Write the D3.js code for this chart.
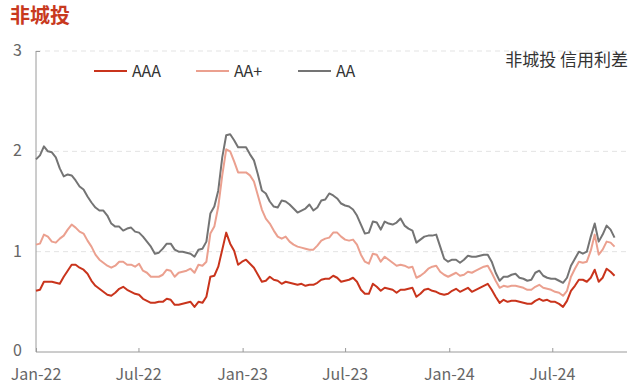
<!DOCTYPE html>
<html>
<head>
<meta charset="utf-8">
<script src="https://cdn.jsdelivr.net/npm/d3@7"></script>
<style>
  html, body { margin: 0; padding: 0; background: #ffffff; }
  svg { display: block; }
  text { font-family: "Noto Sans CJK SC", "Noto Sans", sans-serif; }
</style>
</head>
<body>
<svg id="chart" width="640" height="391"></svg>
<script>
// ---- Data (weekly, starting 2022-01-01) ----
const startDate = "2022-01-01";
const stepDays = 7;
const seriesNames = ["AAA", "AA+", "AA"];
const aaa = [0.61,0.62,0.70,0.70,0.70,0.69,0.68,0.75,0.81,0.87,0.87,0.84,0.82,0.78,0.71,0.66,0.63,0.60,0.57,0.56,
  0.59,0.63,0.65,0.62,0.60,0.58,0.57,0.53,0.51,0.49,0.49,0.50,0.50,0.53,0.52,0.47,0.47,0.48,0.49,0.50,
  0.45,0.50,0.49,0.55,0.75,0.76,0.85,1.02,1.19,1.08,1.01,0.87,0.90,0.92,0.88,0.84,0.77,0.70,0.71,0.75,
  0.72,0.71,0.68,0.70,0.69,0.68,0.67,0.68,0.66,0.67,0.67,0.69,0.72,0.73,0.73,0.76,0.74,0.70,0.71,0.72,
  0.74,0.70,0.62,0.58,0.58,0.68,0.65,0.61,0.64,0.63,0.62,0.59,0.62,0.62,0.63,0.64,0.55,0.58,0.62,0.63,
  0.61,0.60,0.58,0.57,0.58,0.61,0.63,0.60,0.62,0.64,0.60,0.62,0.64,0.66,0.68,0.62,0.55,0.49,0.52,0.50,
  0.51,0.51,0.50,0.49,0.48,0.48,0.51,0.53,0.51,0.52,0.50,0.50,0.48,0.45,0.51,0.61,0.66,0.72,0.72,0.70,
  0.74,0.82,0.70,0.74,0.83,0.80,0.76];
const aaPlus = [1.07,1.08,1.17,1.15,1.10,1.09,1.13,1.16,1.22,1.27,1.24,1.20,1.18,1.11,1.05,0.97,0.92,0.89,0.86,0.84,
  0.86,0.90,0.90,0.87,0.87,0.85,0.88,0.81,0.79,0.75,0.75,0.75,0.77,0.82,0.81,0.75,0.79,0.80,0.81,0.83,
  0.79,0.87,0.86,0.90,1.18,1.25,1.45,1.76,2.02,2.00,1.90,1.79,1.79,1.79,1.76,1.70,1.56,1.42,1.33,1.28,
  1.21,1.15,1.13,1.15,1.10,1.07,1.05,1.04,1.03,1.02,1.02,1.06,1.11,1.13,1.14,1.19,1.19,1.15,1.12,1.11,
  1.12,1.07,0.97,0.90,0.88,0.98,0.97,0.90,0.95,0.92,0.89,0.86,0.87,0.86,0.84,0.85,0.74,0.76,0.79,0.83,
  0.85,0.86,0.80,0.77,0.75,0.77,0.79,0.76,0.77,0.80,0.79,0.81,0.83,0.85,0.86,0.79,0.71,0.64,0.66,0.65,
  0.66,0.66,0.65,0.64,0.62,0.62,0.65,0.67,0.64,0.63,0.62,0.60,0.59,0.56,0.61,0.75,0.83,0.90,0.89,0.90,
  1.01,1.17,0.97,1.02,1.10,1.09,1.05];
const aa = [1.92,1.96,2.05,2.00,1.99,1.94,1.83,1.75,1.77,1.76,1.71,1.65,1.62,1.55,1.49,1.44,1.41,1.41,1.36,1.28,
  1.25,1.25,1.21,1.23,1.24,1.20,1.19,1.15,1.10,1.05,0.98,0.99,1.03,1.08,1.08,1.02,1.00,1.00,0.99,0.98,
  0.95,1.02,1.03,1.10,1.38,1.45,1.61,1.94,2.16,2.17,2.11,2.04,2.04,2.04,1.97,1.91,1.77,1.61,1.58,1.50,
  1.45,1.44,1.51,1.50,1.47,1.43,1.39,1.41,1.43,1.47,1.41,1.44,1.51,1.52,1.58,1.56,1.53,1.48,1.46,1.45,
  1.42,1.36,1.27,1.18,1.19,1.30,1.29,1.22,1.30,1.28,1.27,1.29,1.33,1.26,1.23,1.21,1.09,1.12,1.15,1.16,
  1.16,1.17,1.05,0.93,0.90,0.92,0.92,0.89,0.92,0.96,0.95,0.95,0.96,0.97,0.97,0.90,0.79,0.71,0.75,0.75,
  0.77,0.78,0.74,0.73,0.71,0.72,0.79,0.81,0.76,0.74,0.73,0.73,0.71,0.69,0.74,0.86,0.93,1.00,0.98,1.00,
  1.15,1.28,1.10,1.17,1.26,1.22,1.14];
const xTickDates = ["2022-01-01","2022-07-01","2023-01-01","2023-07-01","2024-01-01","2024-07-01"];
const xTickLabels = ["Jan-22","Jul-22","Jan-23","Jul-23","Jan-24","Jul-24"];
const yTicks = [0, 1, 2, 3];
const colors = ["#C9341C", "#EBA08F", "#747474"];
const titleText = "非城投";
const noteText = "非城投 信用利差";

(function () {
  const parse = d3.utcParse("%Y-%m-%d");
  const t0 = parse(startDate);
  const dates = aaa.map((_, i) => d3.utcDay.offset(t0, i * stepDays));
  const seriesVals = [aaa, aaPlus, aa];

  const svg = d3.select("#chart");
  const pL = 36, pR = 627, pT = 51, pB = 352;

  const x = d3.scaleUtc()
    .domain([parse("2022-01-01"), parse("2024-11-10")])
    .range([pL, pR]);
  const y = d3.scaleLinear().domain([0, 3]).range([pB, pT]);

  // title
  svg.append("text")
    .attr("x", 10).attr("y", 23)
    .attr("fill", "#C8391E")
    .attr("font-size", 20).attr("font-weight", 700)
    .text(titleText);

  // gridlines
  svg.append("g")
    .selectAll("line")
    .data(yTicks.filter(d => d > 0))
    .join("line")
    .attr("x1", pL).attr("x2", pR)
    .attr("y1", d => y(d)).attr("y2", d => y(d))
    .attr("stroke", "#e3e3e3").attr("stroke-width", 1)
    .attr("stroke-dasharray", "5,4");

  // y axis
  const yAxis = svg.append("g")
    .attr("transform", `translate(${pL},0)`)
    .call(d3.axisRight(y).tickValues([3]).tickSize(4).tickFormat(""));
  yAxis.select(".domain").attr("stroke", "#9a9a9a").attr("d", `M0,${pT}V${pB}`);
  yAxis.selectAll(".tick line").attr("stroke", "#9a9a9a");

  svg.append("g")
    .selectAll("text")
    .data(yTicks)
    .join("text")
    .attr("x", 22).attr("y", d => y(d) + (d === 0 ? 4 : 5))
    .attr("text-anchor", "end")
    .attr("fill", "#666")
    .attr("font-size", 16)
    .text(d => d);

  // x axis
  const xAxis = svg.append("g")
    .attr("transform", `translate(0,${pB})`)
    .call(d3.axisTop(x)
      .tickValues(xTickDates.map(parse))
      .tickSize(4)
      .tickFormat(""));
  xAxis.select(".domain").attr("stroke", "#9a9a9a").attr("d", `M${pL},0H${pR}`);
  xAxis.selectAll(".tick line").attr("stroke", "#9a9a9a");

  svg.append("g")
    .selectAll("text")
    .data(xTickDates)
    .join("text")
    .attr("x", d => x(parse(d)))
    .attr("y", 380)
    .attr("text-anchor", "middle")
    .attr("fill", "#666")
    .attr("font-size", 16)
    .text((d, i) => xTickLabels[i]);

  // lines
  const line = d3.line()
    .x((d, i) => x(dates[i]))
    .y(d => y(d));

  svg.append("g")
    .selectAll("path")
    .data([2, 1, 0])
    .join("path")
    .attr("d", k => line(seriesVals[k]))
    .attr("fill", "none")
    .attr("stroke", k => colors[k])
    .attr("stroke-width", 2)
    .attr("stroke-linejoin", "round");

  // legend
  const legendX = [94, 196, 298];
  const lg = svg.append("g");
  seriesNames.forEach((name, k) => {
    lg.append("line")
      .attr("x1", legendX[k]).attr("x2", legendX[k] + 33)
      .attr("y1", 71).attr("y2", 71)
      .attr("stroke", colors[k]).attr("stroke-width", 2);
    lg.append("text")
      .attr("x", legendX[k] + 38).attr("y", 71)
      .attr("dy", "0.35em")
      .attr("fill", "#333")
      .attr("font-size", 16)
      .text(name);
  });

  // note
  svg.append("text")
    .attr("x", 628).attr("y", 60)
    .attr("dy", "0.35em")
    .attr("text-anchor", "end")
    .attr("fill", "#333")
    .attr("font-size", 17)
    .text(noteText);
})();
</script>
</body>
</html>
